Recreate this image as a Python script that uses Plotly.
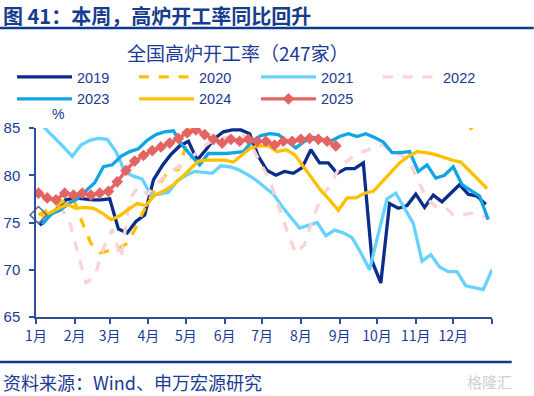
import plotly.graph_objects as go

# ---------------- data ----------------
MONTH_START_DAYS = [0, 31, 59, 90, 120, 151, 181, 212, 243, 273, 304, 334, 365]
MONTH_LABELS = ["1月", "2月", "3月", "4月", "5月", "6月", "7月", "8月", "9月",
                "10月", "11月", "12月", ""]

YEARS = ["2019", "2020", "2021", "2022", "2023", "2024", "2025"]
# day-of-year of first weekly observation for each year
START_DAY = {"2019": 3, "2020": 2, "2021": 1, "2022": 5, "2023": 5, "2024": 4, "2025": 2}

v2019 = [74.7, 75.6, 76.5, 77.4, 77.6, 77.5, 77.4, 77.4, 77.5, 74.3, 73.9, 75.1, 75.8,
         79.5, 81.0, 82.2, 83.1, 83.6, 81.6, 82.7, 83.9, 84.6, 84.8, 84.8, 84.4, 82.0,
         80.5, 80.0, 80.4, 80.2, 80.8, 82.7, 81.3, 81.3, 80.2, 80.7, 80.7, 81.3, 70.9,
         68.6, 77.0, 76.5, 76.8, 78.0, 76.6, 77.9, 77.2, 78.1, 79.0, 78.0, 77.8, 76.9]
v2020 = [75.8, 76.3, 76.8, 77.3, 77.5, 75.0, 72.8, 71.8, 72.0, 72.2, 72.7, 74.2, 76.2,
         78.0, 79.3, 80.6, 80.6, 83.5, 86.5, 87.4, 88.0, 88.6, 89.0, 89.3, 89.5, 89.4,
         89.2, 89.0, 88.8, 88.7, 88.9, 89.1, 89.0, 88.6, 88.4, 88.5, 88.3, 88.0, 87.6,
         87.8, 88.0, 88.3, 88.1, 87.9, 88.2, 88.4, 88.3, 88.1, 88.0, 84.6, 85.4, 86.0]
v2021 = [85.8, 84.9, 84.0, 83.0, 82.0, 83.2, 83.7, 83.9, 83.8, 82.5, 80.4, 79.9, 79.6,
         77.9, 78.0, 78.2, 79.4, 80.0, 80.4, 80.3, 80.2, 81.0, 80.9, 80.6, 80.1, 79.5,
         78.8, 78.0, 76.7, 75.5, 74.4, 74.7, 75.0, 73.6, 74.2, 73.9, 73.4, 71.8, 70.0,
         73.8, 77.5, 78.1, 76.5, 74.9, 70.9, 71.6, 70.3, 69.8, 69.8, 68.3, 68.1, 67.9, 70.0]
v2022 = [75.3, 75.9, 76.6, 75.5, 72.0, 68.6, 69.3, 72.3, 74.3, 71.2, 77.5, 78.8, 78.0,
         79.0, 79.9, 80.6, 81.0, 81.8, 82.7, 83.4, 83.8, 84.0, 84.1, 84.3, 83.0, 81.2,
         79.5, 76.8, 74.1, 71.7, 72.7, 75.6, 77.8, 79.0, 80.9, 81.6, 82.3, 82.6, 83.0,
         83.2, 82.4, 82.2, 81.4, 79.4, 77.5, 76.7, 76.7, 75.8, 75.8, 76.0, 75.9, 75.4]
v2023 = [74.8, 75.9, 76.3, 77.0, 77.5, 78.4, 79.2, 80.9, 81.1, 82.0, 82.5, 82.8, 83.7,
         84.3, 84.6, 84.7, 83.2, 82.1, 81.1, 82.3, 82.3, 82.3, 82.4, 82.5, 83.6, 84.2,
         84.4, 84.3, 83.6, 82.9, 83.6, 84.0, 83.8, 83.6, 84.1, 84.4, 84.1, 84.4, 84.0,
         83.5, 82.4, 82.4, 82.5, 80.4, 81.1, 79.7, 80.0, 80.9, 79.0, 78.4, 77.8, 75.3]
v2024 = [75.7, 76.0, 76.5, 76.9, 76.5, 76.6, 76.5, 76.0, 75.3, 75.7, 76.4, 77.0, 76.8,
         77.9, 78.3, 78.9, 79.7, 80.6, 81.5, 81.6, 81.6, 81.6, 81.4, 82.2, 82.9, 83.1,
         83.1, 82.5, 82.7, 82.2, 80.9, 79.7, 78.4, 77.4, 76.3, 77.6, 77.6, 78.1, 78.3,
         79.3, 80.3, 81.3, 82.0, 82.5, 82.4, 82.2, 81.9, 81.6, 81.4, 80.5, 79.5, 78.6]
v2025 = [78.1, 77.6, 77.4, 78.1, 77.9, 78.1, 77.9, 78.1, 78.3, 79.3, 80.5, 81.5, 82.1,
         82.6, 83.0, 83.4, 83.9, 84.5, 84.8, 84.3, 83.8, 83.4, 83.8, 83.6, 83.8, 83.6,
         83.6, 83.2, 83.6, 83.6, 83.8, 83.9, 83.8, 83.6, 83.1]

VALUES = {"2019": v2019, "2020": v2020, "2021": v2021, "2022": v2022,
          "2023": v2023, "2024": v2024, "2025": v2025}

# ---------------- styles ----------------
STYLE = {
    "2019": dict(color="#0A2D8C", width=3.3, dash="solid"),
    "2020": dict(color="#FFC000", width=3.3, dash="dash"),
    "2021": dict(color="#66D2FF", width=3.3, dash="solid"),
    "2022": dict(color="#F9D3D6", width=3.3, dash="dash"),
    "2023": dict(color="#12A5E6", width=3.3, dash="solid"),
    "2024": dict(color="#FFC000", width=3.3, dash="solid"),
    "2025": dict(color="#E46464", width=3.3, dash="solid"),
}
TXT = "#1B3A94"
FONT = "Liberation Sans, Arial, Noto Sans CJK SC, sans-serif"
CJK = "Noto Sans CJK SC, Liberation Sans, sans-serif"

fig = go.Figure()
for yr in YEARS:
    vals = VALUES[yr]
    xs = [START_DAY[yr] + 7 * i for i in range(len(vals))]
    st = STYLE[yr]
    kw = dict(mode="lines")
    if yr == "2025":
        kw = dict(mode="lines+markers",
                  marker=dict(symbol="diamond", size=9, color=st["color"]))
    fig.add_trace(go.Scatter(
        x=xs, y=vals, name=yr,
        line=dict(color=st["color"], width=st["width"], dash=st["dash"]),
        **kw))

# stray hollow diamond on first 2020 point
fig.add_trace(go.Scatter(
    x=[START_DAY["2020"]], y=[v2020[0]], mode="markers", showlegend=False,
    marker=dict(symbol="diamond-open", size=13, color="#4E6A98",
                line=dict(width=1.5, color="#4E6A98")),
    cliponaxis=False))

W, H = 534, 396
L, R, T, B = 36, 41.75, 128, 79
pw = W - L - R
ph = H - T - B

def px_x(p):
    return (p - L) / pw

def px_y(p):
    return (H - B - p) / ph

fig.update_layout(
    width=W, height=H,
    margin=dict(l=L, r=R, t=T, b=B, pad=0, autoexpand=False),
    paper_bgcolor="white", plot_bgcolor="white",
    font=dict(family=FONT, color=TXT, size=14),
    showlegend=True,
    legend=dict(
        orientation="h", x=px_x(12), y=px_y(61), xanchor="left", yanchor="top",
        xref="paper", yref="paper",
        entrywidth=52, entrywidthmode="pixels", itemwidth=55,
        font=dict(family=FONT, size=14.5, color=TXT),
        tracegroupgap=0, bgcolor="rgba(0,0,0,0)", borderwidth=0,
    ),
    xaxis=dict(
        range=[0, 365], tickmode="array", tickvals=MONTH_START_DAYS,
        ticktext=MONTH_LABELS, showgrid=False, zeroline=False, automargin=False,
        showline=True, linecolor="#2E4FA0", linewidth=1.5,
        ticks="outside", ticklen=5, tickcolor="#2E4FA0", tickwidth=1.5,
        tickfont=dict(family=CJK, size=14, color=TXT),
    ),
    yaxis=dict(
        range=[65, 85], dtick=5, tick0=65, showgrid=False, zeroline=False,
        automargin=False,
        showline=True, linecolor="#2E4FA0", linewidth=1.5,
        ticks="outside", ticklen=5, tickcolor="#2E4FA0", tickwidth=1.5,
        tickfont=dict(family=FONT, size=15, color=TXT),
        ticklabelstandoff=6,
    ),
)

# title, subtitle, unit, source, watermark
fig.add_annotation(text="<b>图 41：本周，高炉开工率同比回升</b>", xref="paper", yref="paper",
                   x=px_x(2), y=px_y(0.5), xanchor="left", yanchor="top",
                   borderpad=0,
                   showarrow=False, font=dict(family=CJK, size=20, color="#163C8E"))
fig.add_annotation(text="全国高炉开工率（247家）", xref="paper", yref="paper",
                   x=px_x(238), y=px_y(52), xanchor="center", yanchor="middle",
                   showarrow=False, font=dict(family=CJK, size=19, color=TXT))
fig.add_annotation(text="%", xref="paper", yref="paper",
                   x=px_x(58), y=px_y(114), xanchor="center", yanchor="middle",
                   showarrow=False, font=dict(family=FONT, size=14, color=TXT))
fig.add_annotation(text="资料来源：Wind、申万宏源研究", xref="paper", yref="paper",
                   x=px_x(1), y=px_y(382), xanchor="left", yanchor="middle",
                   showarrow=False, font=dict(family=CJK, size=18, color=TXT))
fig.add_annotation(text="格隆汇", xref="paper", yref="paper",
                   x=px_x(514), y=px_y(381), xanchor="right", yanchor="middle",
                   showarrow=False, font=dict(family=CJK, size=15, color="#CFCFCF"))

fig.add_shape(type="line", xref="paper", yref="paper",
              x0=px_x(0), x1=px_x(534), y0=px_y(28), y1=px_y(28),
              line=dict(color="#0E3A8E", width=2.5))
fig.add_shape(type="line", xref="paper", yref="paper",
              x0=px_x(0), x1=px_x(512), y0=px_y(362), y1=px_y(362),
              line=dict(color="#0E3A8E", width=2.5))

fig.write_html("out.html", config={"displayModeBar": False},
               post_script="document.body.style.margin='0';document.body.style.overflow='hidden';")
